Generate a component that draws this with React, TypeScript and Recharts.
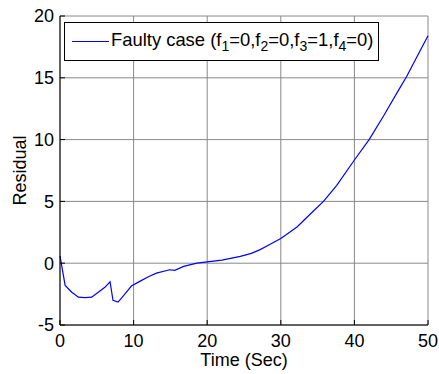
import { JSX } from "react";
import {
  CartesianGrid,
  Legend,
  Line,
  LineChart,
  XAxis,
  YAxis,
} from "recharts";

// residual of the faulty case over time
const times = [
  0, 0.7, 1.6, 2.5, 3.4, 4.3, 5.2, 6.1, 6.8, 7.2, 7.9, 8.8, 9.7, 10.9, 12,
  13.1, 14.9, 15.6, 16.8, 18.6, 20, 22, 24.5, 26, 27.2, 28.3, 30, 32.2, 34.4,
  35.8, 37.6, 40, 42, 44, 46, 47.1, 48.5, 50,
];
const residuals = [
  0.6, -1.8, -2.35, -2.75, -2.78, -2.75, -2.35, -1.95, -1.5, -3.0, -3.15, -2.5,
  -1.85, -1.45, -1.1, -0.8, -0.53, -0.58, -0.26, 0, 0.1, 0.25, 0.55, 0.8, 1.1,
  1.45, 2.0, 2.93, 4.2, 5.0, 6.3, 8.35, 10.0, 11.95, 14.0, 15.1, 16.7, 18.4,
];

const xTicks = [0, 10, 20, 30, 40, 50];
const yTicks = [-5, 0, 5, 10, 15, 20];

const faultLabels = ["f", "f", "f", "f"];
const faultFlags = [0, 0, 1, 0];

const data = times.map((t, i) => ({ time: t, residual: residuals[i] }));

const FONT = "'Liberation Sans', Arial, sans-serif";
const tickStyle = { fontSize: 18, fill: "#000", fontFamily: FONT };

function FaultLegend(): JSX.Element {
  return (
    <div
      style={{
        boxSizing: "border-box",
        width: 315,
        height: 39,
        border: "1px solid #000",
        background: "#fff",
        display: "flex",
        alignItems: "center",
        paddingLeft: 7,
        fontFamily: FONT,
        fontSize: 18.4,
        color: "#000",
        whiteSpace: "nowrap",
      }}
    >
      <svg width={37} height={3} style={{ marginRight: 2 }}>
        <line x1={0} y1={1.5} x2={37} y2={1.5} stroke="#0000ff" strokeWidth={1} />
      </svg>
      <span>
        Faulty case (
        {faultFlags.map((v, i) => (
          <span key={i}>
            {i > 0 ? "," : ""}
            {faultLabels[i]}
            <sub style={{ fontSize: 14, verticalAlign: -5 }}>{i + 1}</sub>={v}
          </span>
        ))}
        )
      </span>
    </div>
  );
}

export default function App(): JSX.Element {
  return (
    <div style={{ position: "absolute", left: 0, top: 0, background: "#fff" }}>
      <LineChart
        width={439}
        height={374}
        data={data}
        margin={{ top: 16, right: 11, left: 0, bottom: 0 }}
      >
        <CartesianGrid stroke="#888" />
        <XAxis
          dataKey="time"
          type="number"
          domain={[0, 50]}
          ticks={xTicks}
          height={49}
          tickSize={-5}
          tickMargin={14}
          tick={tickStyle}
          stroke="#000"
          label={{
            value: "Time (Sec)",
            position: "insideBottom",
            offset: 8,
            style: { fontSize: 18, fill: "#000", fontFamily: FONT },
          }}
        />
        <XAxis
          xAxisId="top"
          orientation="top"
          type="number"
          domain={[0, 50]}
          ticks={xTicks}
          height={0}
          tickSize={-5}
          tick={false}
          stroke="#000"
        />
        <YAxis
          type="number"
          domain={[-5, 20]}
          ticks={yTicks}
          width={60}
          tickSize={-5}
          tickMargin={11}
          tick={tickStyle}
          stroke="#000"
          label={{
            value: "Residual",
            angle: -90,
            position: "insideLeft",
            offset: 20,
            style: { fontSize: 18, fill: "#000", fontFamily: FONT, textAnchor: "middle" },
          }}
        />
        <YAxis
          yAxisId="right"
          orientation="right"
          type="number"
          domain={[-5, 20]}
          ticks={yTicks}
          width={0}
          tickSize={-5}
          tick={false}
          stroke="#000"
        />
        <Legend
          layout="vertical"
          align="center"
          verticalAlign="middle"
          wrapperStyle={{ left: 64, top: 22, width: "auto", height: "auto" }}
          content={() => <FaultLegend />}
        />
        <Line
          dataKey="residual"
          stroke="#0000ff"
          strokeWidth={1.2}
          dot={false}
          isAnimationActive={false}
        />
      </LineChart>
    </div>
  );
}
